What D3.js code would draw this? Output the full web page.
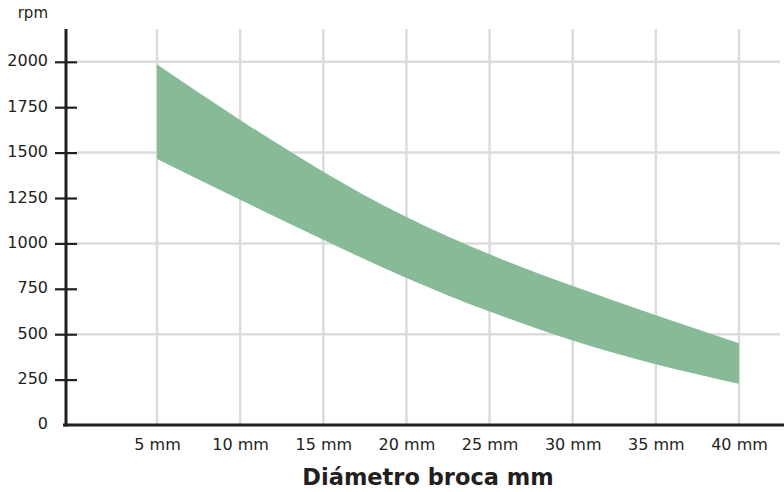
<!DOCTYPE html>
<html>
<head>
<meta charset="utf-8">
<script src="https://cdn.jsdelivr.net/npm/d3@7"></script>
<style>
  body { margin: 0; background: #fff; }
  text { font-family: "DejaVu Sans", sans-serif; fill: #231f20; }
</style>
</head>
<body>
<script>
// drill diameter (mm) vs rpm band
var diam = [5, 10, 15, 20, 25, 30, 35, 40];
var rpmHigh = [1985, 1680, 1395, 1145, 940, 765, 605, 450];
var rpmLow = [1465, 1240, 1020, 810, 625, 465, 335, 227];
var yTicks = [250, 500, 750, 1000, 1250, 1500, 1750, 2000];
var yGrid = [500, 1000, 1500, 2000];

var w = 784;
var h = 492;
var svg = d3.select("body").append("svg").attr("width", w).attr("height", h);

var x = d3.scaleLinear().domain([5, 40]).range([157, 739]);
var y = d3.scaleLinear().domain([0, 2000]).range([425, 61.8]);

// grid
svg.append("g")
  .selectAll("line")
  .data(yGrid)
  .enter()
  .append("line")
  .attr("x1", 77)
  .attr("x2", 780)
  .attr("y1", function (d) { return y(d); })
  .attr("y2", function (d) { return y(d); })
  .attr("stroke", "#dcdcdc")
  .attr("stroke-width", 2.5);

svg.append("g")
  .selectAll("line")
  .data(diam)
  .enter()
  .append("line")
  .attr("x1", function (d) { return x(d); })
  .attr("x2", function (d) { return x(d); })
  .attr("y1", 29)
  .attr("y2", 425)
  .attr("stroke", "#dcdcdc")
  .attr("stroke-width", 2.5);

// band
var band = diam.map(function (d, i) {
  return { d: d, hi: rpmHigh[i], lo: rpmLow[i] };
});
var area = d3.area()
  .x(function (p) { return x(p.d); })
  .y0(function (p) { return y(p.lo); })
  .y1(function (p) { return y(p.hi); })
  .curve(d3.curveNatural);

svg.append("path")
  .datum(band)
  .attr("d", area)
  .attr("fill", "#87ba97");

// axes
var yAxis = d3.axisLeft(y).tickValues(yTicks).tickSizeInner(11).tickSizeOuter(0).tickPadding(7)
  .tickFormat(d3.format("d"));
var gy = svg.append("g").attr("transform", "translate(66,0)").call(yAxis);
gy.select(".domain").remove();
gy.selectAll(".tick line").attr("x1", 11).attr("stroke", "#231f20").attr("stroke-width", 2.2);
gy.selectAll(".tick text").attr("font-size", 16).attr("dy", "0.25em");
gy.append("text")
  .attr("x", -18)
  .attr("y", y(0))
  .attr("dy", "0.25em")
  .attr("text-anchor", "end")
  .attr("font-size", 16)
  .text("0");

var xAxis = d3.axisBottom(x).tickValues(diam).tickSize(0).tickPadding(14)
  .tickFormat(function (d) { return d + " mm"; });
var gx = svg.append("g").attr("transform", "translate(0,425)").call(xAxis);
gx.select(".domain").remove();
gx.selectAll(".tick text").attr("font-size", 16);
gy.attr("font-family", null);
gx.attr("font-family", null);

svg.append("line")
  .attr("x1", 66).attr("x2", 66)
  .attr("y1", 29).attr("y2", 426.5)
  .attr("stroke", "#231f20").attr("stroke-width", 3);
svg.append("line")
  .attr("x1", 63).attr("x2", 784)
  .attr("y1", 425).attr("y2", 425)
  .attr("stroke", "#231f20").attr("stroke-width", 3);

svg.append("text")
  .attr("x", 48)
  .attr("y", 17.5)
  .attr("text-anchor", "end")
  .attr("font-size", 15)
  .text("rpm");

svg.append("text")
  .attr("x", 428)
  .attr("y", 485)
  .attr("text-anchor", "middle")
  .attr("font-size", 22.5)
  .attr("font-weight", "bold")
  .text("Diámetro broca mm");
</script>
</body>
</html>
